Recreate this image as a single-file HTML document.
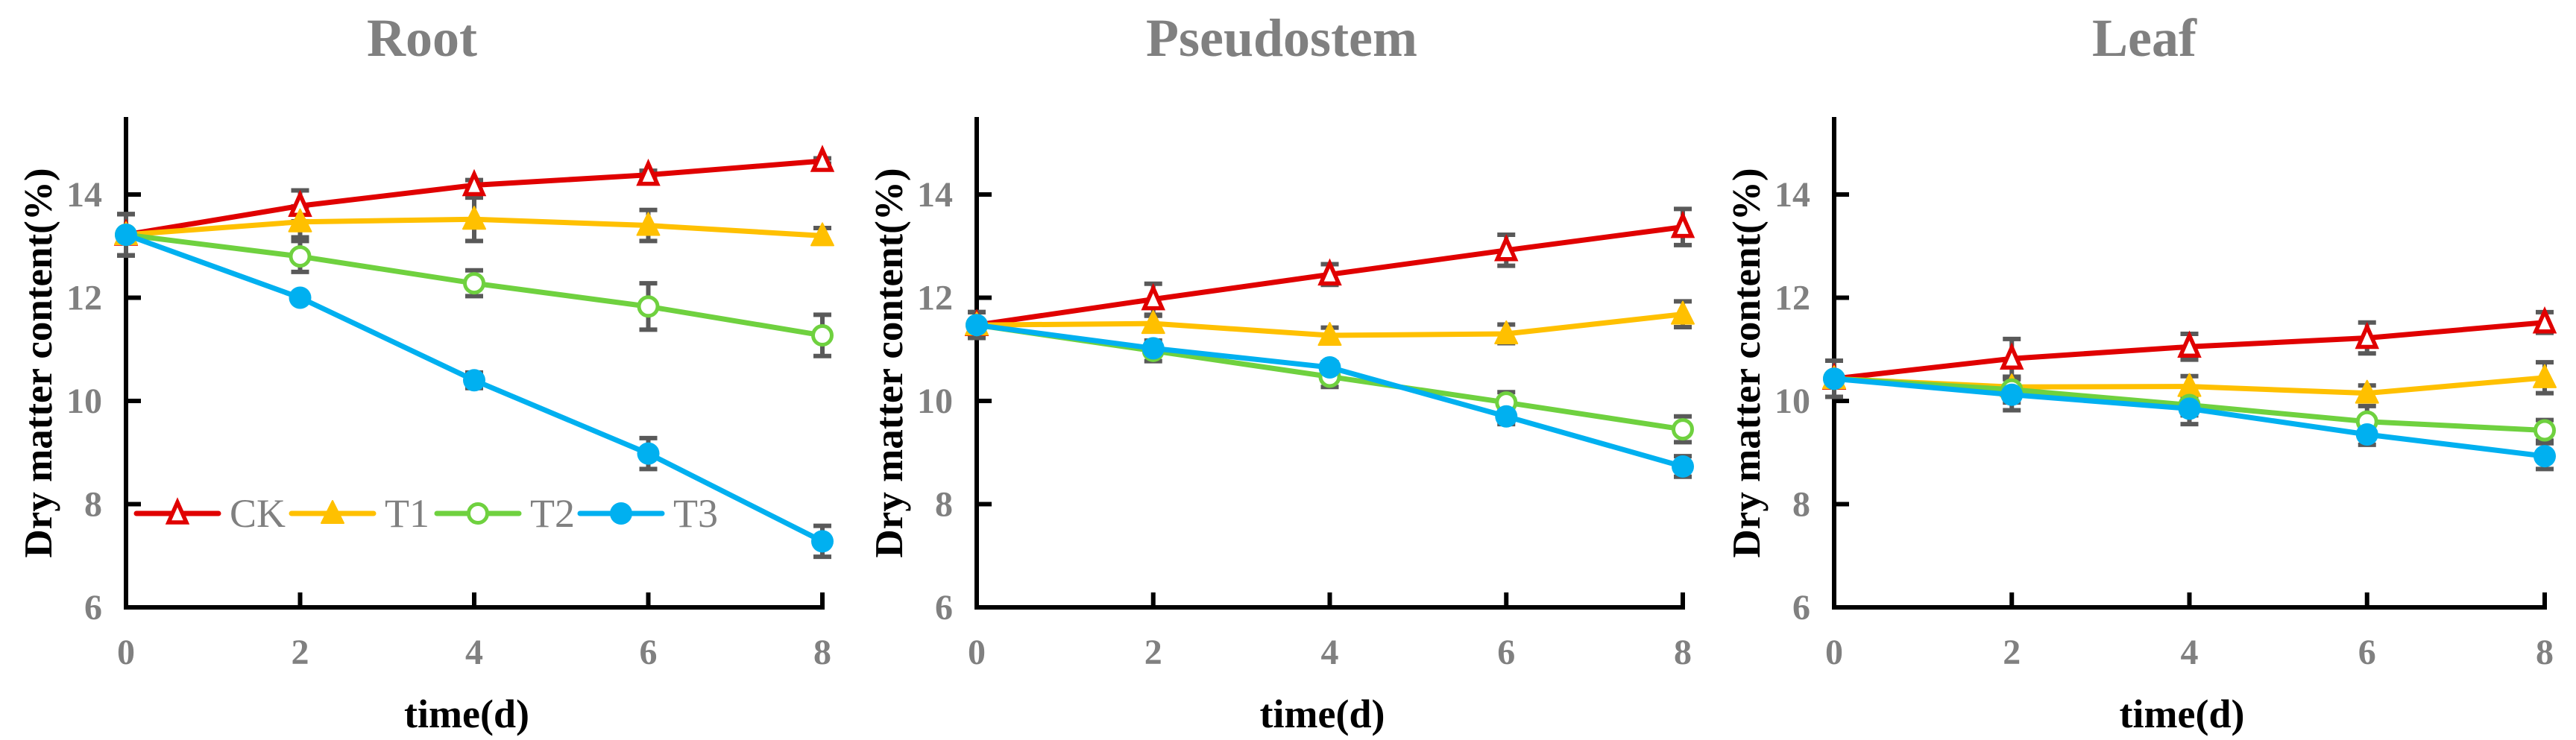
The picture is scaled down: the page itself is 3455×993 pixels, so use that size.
<!DOCTYPE html>
<html><head><meta charset="utf-8"><style>
html,body{margin:0;padding:0;background:#fff;}
svg{display:block;}
text{font-family:"Liberation Serif",serif;}
</style></head><body>
<svg id="chart" width="3455" height="993" viewBox="0 0 3455 993" xmlns="http://www.w3.org/2000/svg"></svg>
<script>
const days = [0, 2, 4, 6, 8];
const yTicks = [6, 8, 10, 12, 14];
const seriesNames = ["CK", "T1", "T2", "T3"];
const panelTitles = ["Root", "Pseudostem", "Leaf"];
// Root
const rootCK = [13.22, 13.78, 14.18, 14.38, 14.65];
const rootT1 = [13.22, 13.47, 13.52, 13.40, 13.20];
const rootT2 = [13.22, 12.80, 12.28, 11.83, 11.27];
const rootT3 = [13.22, 12.00, 10.40, 8.98, 7.28];
const rootErrCK = [0.40, 0.30, 0.10, 0.08, 0.05];
const rootErrT1 = [0.40, 0.30, 0.42, 0.30, 0.15];
const rootErrT2 = [0.40, 0.30, 0.25, 0.45, 0.40];
const rootErrT3 = [0.40, 0.05, 0.15, 0.30, 0.30];
// Pseudostem
const pseudoCK = [11.47, 11.97, 12.45, 12.92, 13.37];
const pseudoT1 = [11.47, 11.50, 11.27, 11.30, 11.68];
const pseudoT2 = [11.47, 10.97, 10.47, 9.97, 9.45];
const pseudoT3 = [11.47, 11.02, 10.65, 9.70, 8.73];
const pseudoErrCK = [0.25, 0.30, 0.20, 0.30, 0.35];
const pseudoErrT1 = [0.25, 0.15, 0.15, 0.18, 0.25];
const pseudoErrT2 = [0.25, 0.20, 0.20, 0.20, 0.25];
const pseudoErrT3 = [0.25, 0.05, 0.10, 0.15, 0.20];
// Leaf
const leafCK = [10.43, 10.82, 11.05, 11.22, 11.52];
const leafT1 = [10.43, 10.27, 10.28, 10.15, 10.45];
const leafT2 = [10.43, 10.22, 9.92, 9.60, 9.43];
const leafT3 = [10.43, 10.12, 9.85, 9.35, 8.93];
const leafErrCK = [0.35, 0.38, 0.25, 0.30, 0.20];
const leafErrT1 = [0.35, 0.20, 0.20, 0.15, 0.30];
const leafErrT2 = [0.35, 0.25, 0.20, 0.30, 0.20];
const leafErrT3 = [0.35, 0.30, 0.30, 0.20, 0.25];

const colors = ["#e00000", "#ffc000", "#6fd13f", "#00b0f0"];
const NS = "http://www.w3.org/2000/svg";
const svg = document.getElementById("chart");
function mk(tag, attrs, parent) {
  const e = document.createElementNS(NS, tag);
  for (const k in attrs) e.setAttribute(k, attrs[k]);
  (parent || svg).appendChild(e);
  return e;
}
const panels = [
  {x0: 169, x1: 1103, titleX: 566, vals: [rootCK, rootT1, rootT2, rootT3], errs: [rootErrCK, rootErrT1, rootErrT2, rootErrT3], key: "root"},
  {x0: 1310, x1: 2257, titleX: 1719, vals: [pseudoCK, pseudoT1, pseudoT2, pseudoT3], errs: [pseudoErrCK, pseudoErrT1, pseudoErrT2, pseudoErrT3], key: "pseudostem"},
  {x0: 2460, x1: 3413, titleX: 2876, vals: [leafCK, leafT1, leafT2, leafT3], errs: [leafErrCK, leafErrT1, leafErrT2, leafErrT3], key: "leaf"}
];
const yBase = 815, yPer = 69.25, yMin = 6, yTop = 157;

function marker(type, cx, cy, color, parent) {
  let m;
  if (type === 0) {
    m = mk("polygon", {points: `${cx},${cy-15} ${cx-12},${cy+12} ${cx+12},${cy+12}`, fill: "#fff", stroke: color, "stroke-width": 5.5, "stroke-linejoin": "miter"}, parent);
  } else if (type === 1) {
    m = mk("polygon", {points: `${cx},${cy-17} ${cx-15},${cy+13} ${cx+15},${cy+13}`, fill: color, stroke: color, "stroke-width": 2, "stroke-linejoin": "round"}, parent);
  } else if (type === 2) {
    m = mk("circle", {cx: cx, cy: cy, r: 12.5, fill: "#fff", stroke: color, "stroke-width": 5}, parent);
  } else {
    m = mk("circle", {cx: cx, cy: cy, r: 15, fill: color}, parent);
  }
  return m;
}

panels.forEach((p, pi) => {
  const g = mk("g", {});
  
  
  const xs = v => p.x0 + (v - days[0]) / (days[days.length-1] - days[0]) * (p.x1 - p.x0);
  const ys = v => yBase - (v - yMin) * yPer;

  const t = mk("text", {x: p.titleX, y: 75, "text-anchor": "middle", "font-size": 72, "font-weight": "bold", fill: "#808080"}, g);
  t.textContent = panelTitles[pi];
  
  

  const ya = mk("path", {d: `M${p.x0},${yTop} L${p.x0},${yBase} L${p.x1 + 3},${yBase}`, fill: "none", stroke: "#000", "stroke-width": 6}, g);
  
  
  yTicks.forEach(v => {
    if (v !== yMin) mk("line", {x1: p.x0, x2: p.x0 + 20, y1: ys(v), y2: ys(v), stroke: "#000", "stroke-width": 6}, g);
    const tl = mk("text", {x: p.x0 - 32, y: ys(v) + 16, "text-anchor": "end", "font-size": 48, "font-weight": "bold", fill: "#808080"}, g);
    tl.textContent = v;
    
    
  });
  days.forEach(d => {
    if (d !== days[0]) mk("line", {x1: xs(d), x2: xs(d), y1: yBase, y2: yBase - 20, stroke: "#000", "stroke-width": 6}, g);
    const tl = mk("text", {x: xs(d), y: 891, "text-anchor": "middle", "font-size": 48, "font-weight": "bold", fill: "#808080"}, g);
    tl.textContent = d;
    
    
  });
  const xl = mk("text", {x: (p.x0 + p.x1) / 2 - 10, y: 976, "text-anchor": "middle", "font-size": 54, "font-weight": "bold", fill: "#000"}, g);
  xl.textContent = "time(d)";
  
  
  const yl = mk("text", {x: 0, y: 0, "text-anchor": "middle", "font-size": 53, "font-weight": "bold", fill: "#000", transform: `translate(${p.x0 - 100},487) rotate(-90)`}, g);
  yl.textContent = "Dry matter content(%)";
  
  

  p.vals.forEach((vals, si) => {
    vals.forEach((v, i) => {
      const e = p.errs[si][i];
      const x = xs(days[i]);
      const eb = mk("path", {d: `M${x},${ys(v+e)} L${x},${ys(v-e)} M${x-12},${ys(v+e)} L${x+12},${ys(v+e)} M${x-12},${ys(v-e)} L${x+12},${ys(v-e)}`, stroke: "#595959", "stroke-width": 6, fill: "none"}, g);
      
      
    });
  });
  p.vals.forEach((vals, si) => {
    const sg = mk("g", {}, g);
    
    
    const pts = vals.map((v, i) => `${xs(days[i])},${ys(v)}`).join(" ");
    const line = mk("polyline", {points: pts, fill: "none", stroke: colors[si], "stroke-width": 7, "stroke-linejoin": "round"}, sg);
    
    
    vals.forEach((v, i) => {
      const m = marker(si, xs(days[i]), ys(v), colors[si], sg);
      
      
    });
  });
});

const lg = mk("g", {});


const legX = [183, 391, 586, 778];
seriesNames.forEach((n, i) => {
  const eg = mk("g", {}, lg);
  
  
  const x = legX[i];
  mk("line", {x1: x, x2: x + 110, y1: 689, y2: 689, stroke: colors[i], "stroke-width": 7, "stroke-linecap": "round"}, eg);
  marker(i, x + 55, 689, colors[i], eg);
  const tx = mk("text", {x: x + 125, y: 707, "font-size": 54, fill: "#808080"}, eg);
  tx.textContent = n;
});
</script>
</body></html>
